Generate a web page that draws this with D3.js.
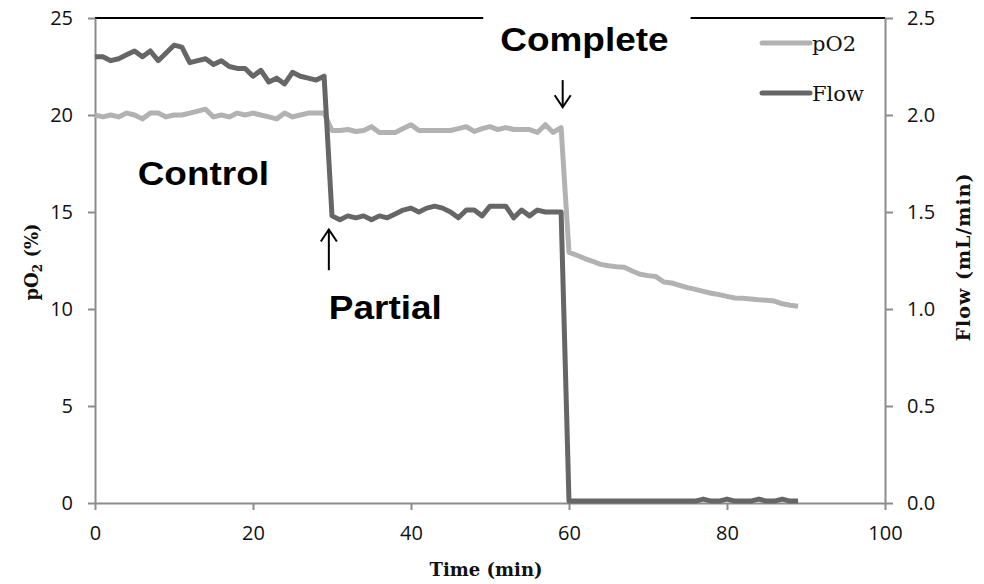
<!DOCTYPE html>
<html>
<head>
<meta charset="utf-8">
<script src="https://cdn.jsdelivr.net/npm/d3@7"></script>
<style>
  body { margin: 0; background: #fff; }
  svg { display: block; }
  .axis text { font-family: "Open Sans", sans-serif; font-size: 20px; fill: #111; }
  .axis path, .axis line { stroke: #8c8c8c; stroke-width: 2; }
</style>
</head>
<body>
<svg width="984" height="584"></svg>
<script>
// time in minutes, one reading per minute
var minutes = d3.range(0, 90);

// pO2 (%) readings
var po2Values = [
  20.0, 19.9, 20.0, 19.9, 20.1, 20.0, 19.8, 20.1, 20.1, 19.9,
  20.0, 20.0, 20.1, 20.2, 20.3, 19.9, 20.0, 19.9, 20.1, 20.0,
  20.1, 20.0, 19.9, 19.8, 20.1, 19.9, 20.0, 20.1, 20.1, 20.1,
  19.2, 19.2, 19.25, 19.15, 19.2, 19.4, 19.1, 19.1, 19.1, 19.3,
  19.5, 19.2, 19.2, 19.2, 19.2, 19.2, 19.3, 19.4, 19.15, 19.3,
  19.4, 19.25, 19.35, 19.25, 19.25, 19.25, 19.1, 19.5, 19.1, 19.35,
  12.92, 12.77, 12.6, 12.46, 12.3, 12.23, 12.18, 12.15, 11.96, 11.79,
  11.72, 11.67, 11.39, 11.34, 11.22, 11.1, 11.01, 10.91, 10.81, 10.74,
  10.65, 10.57, 10.55, 10.52, 10.48, 10.45, 10.41, 10.27, 10.19, 10.14
];

// Flow (mL/min) readings
var flowValues = [
  2.30, 2.30, 2.28, 2.29, 2.31, 2.33, 2.30, 2.33, 2.28, 2.32,
  2.36, 2.35, 2.27, 2.28, 2.29, 2.26, 2.28, 2.25, 2.24, 2.24,
  2.20, 2.23, 2.17, 2.19, 2.16, 2.22, 2.20, 2.19, 2.18, 2.20,
  1.48, 1.46, 1.48, 1.47, 1.48, 1.46, 1.48, 1.47, 1.49, 1.51,
  1.52, 1.50, 1.52, 1.53, 1.52, 1.50, 1.47, 1.51, 1.51, 1.48,
  1.53, 1.53, 1.53, 1.47, 1.51, 1.48, 1.51, 1.50, 1.50, 1.50,
  0.01, 0.01, 0.01, 0.01, 0.01, 0.01, 0.01, 0.01, 0.01, 0.01,
  0.01, 0.01, 0.01, 0.01, 0.01, 0.01, 0.01, 0.02, 0.01, 0.01,
  0.02, 0.01, 0.01, 0.01, 0.02, 0.01, 0.01, 0.02, 0.01, 0.01
];

var xTicks = [0, 20, 40, 60, 80, 100];
var leftTicks = [0, 5, 10, 15, 20, 25];
var rightTicks = [0, 0.5, 1.0, 1.5, 2.0, 2.5];

var seriesNames = ["pO2", "Flow"];
var seriesColors = ["#b2b2b2", "#666666"];

// annotations: [text, time, left-axis value]
var labels = [
  ["Complete", 51.3, 23.3],
  ["Control", 5.4, 16.4],
  ["Partial", 29.6, 9.5]
];

var svg = d3.select("svg");
var pLeft = 95, pRight = 885, pTop = 18, pBottom = 503;

var x = d3.scaleLinear().domain([0, 100]).range([pLeft, pRight]);
var yL = d3.scaleLinear().domain([0, 25]).range([pBottom, pTop]);
var yR = d3.scaleLinear().domain([0, 2.5]).range([pBottom, pTop]);

// top border of the plot (black)
svg.append("line")
  .attr("x1", pLeft).attr("x2", pRight)
  .attr("y1", pTop).attr("y2", pTop)
  .attr("stroke", "#000").attr("stroke-width", 2);

// axes
svg.append("g").attr("class", "axis")
  .attr("transform", "translate(0," + pBottom + ")")
  .call(d3.axisBottom(x).tickValues(xTicks).tickSize(7).tickSizeOuter(0).tickPadding(16));

svg.append("g").attr("class", "axis")
  .attr("transform", "translate(" + pLeft + ",0)")
  .call(d3.axisLeft(yL).tickValues(leftTicks).tickSize(7).tickSizeOuter(0).tickPadding(15));

svg.append("g").attr("class", "axis")
  .attr("transform", "translate(" + pRight + ",0)")
  .call(d3.axisRight(yR).tickValues(rightTicks).tickSize(8).tickSizeOuter(0).tickPadding(14)
    .tickFormat(d3.format(".1f")));

// lines
var po2Line = d3.line()
  .x(function(d, i) { return x(minutes[i]); })
  .y(function(d) { return yL(d); });

var flowLine = d3.line()
  .x(function(d, i) { return x(minutes[i]); })
  .y(function(d) { return yR(d); });

svg.append("path")
  .datum(po2Values)
  .attr("d", po2Line)
  .attr("fill", "none")
  .attr("stroke", seriesColors[0])
  .attr("stroke-width", 5)
  .attr("stroke-linejoin", "round");

svg.append("path")
  .datum(flowValues)
  .attr("d", flowLine)
  .attr("fill", "none")
  .attr("stroke", seriesColors[1])
  .attr("stroke-width", 5)
  .attr("stroke-linejoin", "round");

// legend
var legend = svg.append("g");
seriesNames.forEach(function(name, i) {
  var ly = 43 + i * 50;
  legend.append("line")
    .attr("x1", 762).attr("x2", 810)
    .attr("y1", ly).attr("y2", ly)
    .attr("stroke", seriesColors[i]).attr("stroke-width", 5)
    .attr("stroke-linecap", "round");
  legend.append("text")
    .attr("x", 812).attr("y", ly + 8)
    .attr("font-family", "DejaVu Serif, serif")
    .attr("font-size", 21)
    .attr("fill", "#111")
    .text(name);
});

// axis titles
svg.append("text")
  .attr("x", 486).attr("y", 576)
  .attr("text-anchor", "middle")
  .attr("font-family", "DejaVu Serif, serif")
  .attr("font-weight", "bold")
  .attr("font-size", 18)
  .attr("fill", "#111")
  .text("Time (min)");

var yTitle = svg.append("text")
  .attr("transform", "translate(38,262) rotate(-90)")
  .attr("text-anchor", "middle")
  .attr("font-family", "DejaVu Serif, serif")
  .attr("font-weight", "bold")
  .attr("font-size", 18)
  .attr("fill", "#111");
yTitle.append("tspan").text("pO");
yTitle.append("tspan").attr("font-size", 12).attr("dy", 4).text("2");
yTitle.append("tspan").attr("dy", -4).text(" (%)");

svg.append("text")
  .attr("transform", "translate(970,257) rotate(-90)")
  .attr("text-anchor", "middle")
  .attr("font-family", "DejaVu Serif, serif")
  .attr("font-weight", "bold")
  .attr("font-size", 19)
  .attr("letter-spacing", 1)
  .attr("fill", "#111")
  .text("Flow (mL/min)");

// annotation text, slightly widened like the original
labels.forEach(function(l, i) {
  var t = svg.append("text")
    .attr("transform", "translate(" + x(l[1]) + "," + yL(l[2]) + ") scale(1.12,1)")
    .attr("font-family", "Liberation Sans, Arial, sans-serif")
    .attr("font-weight", "bold")
    .attr("font-size", 33)
    .attr("fill", "#000")
    .text(l[0]);
  if (i === 0) {
    var w = t.node().getComputedTextLength() * 1.12;
    svg.insert("rect", function() { return t.node(); })
      .attr("x", x(l[1]) - 17).attr("y", pTop - 3)
      .attr("width", w + 39).attr("height", 8)
      .attr("fill", "#fff");
  }
});

// arrows
function arrow(xv, y1v, y2v) {
  var g = svg.append("g").attr("stroke", "#000").attr("stroke-width", 2).attr("fill", "none");
  var x0 = x(xv), a = yL(y1v), b = yL(y2v);
  var dir = b > a ? -1 : 1;
  g.append("line").attr("x1", x0).attr("x2", x0).attr("y1", a).attr("y2", b);
  g.append("path").attr("d", "M" + (x0 - 8) + "," + (b + dir * 12) + "L" + x0 + "," + b + "L" + (x0 + 8) + "," + (b + dir * 12));
}
arrow(59.2, 21.8, 20.4);
arrow(29.6, 12.0, 14.1);
</script>
</body>
</html>
